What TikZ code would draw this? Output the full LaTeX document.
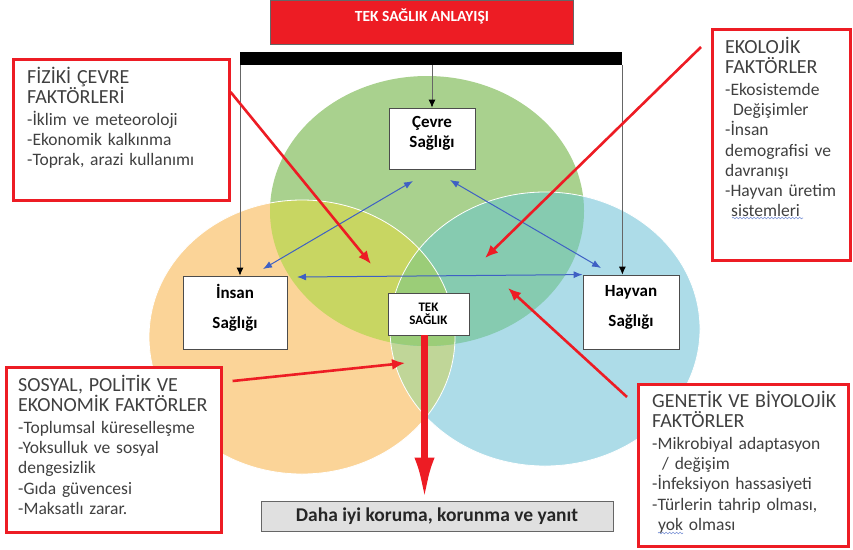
\documentclass[tikz,border=0pt]{standalone}
\usepackage{fontspec}
\setmainfont{Carlito}
\usetikzlibrary{arrows.meta,positioning,decorations.pathmorphing}
\definecolor{tekred}{RGB}{237,28,36}
\definecolor{cevregreen}{RGB}{169,209,142}
\definecolor{insanorange}{RGB}{251,212,152}
\definecolor{hayvanblue}{RGB}{173,220,232}
\definecolor{ogmix}{RGB}{200,214,98}
\definecolor{gbmix}{RGB}{134,203,176}
\definecolor{obmix}{RGB}{192,214,152}
\definecolor{ogbmix}{RGB}{155,205,120}
\definecolor{facgray}{RGB}{64,64,64}
\definecolor{linkblue}{RGB}{62,96,196}

\begin{document}
\begin{tikzpicture}[>=latex, x=1pt, y=-1pt,
  healthbox/.style={draw=black!70, fill=white, line width=0.8pt, align=center, inner sep=0,
    font=\bfseries\fontsize{17}{20}\selectfont},
  factorbox/.style={draw=tekred, line width=2.6pt, fill=white, inner sep=0},
  factortext/.style={anchor=base west, inner sep=0, text=facgray, text width=#1, align=left,
    font=\fontsize{17.5}{20.3}\selectfont},
  redlink/.style={draw=tekred, line width=2.6pt, -{Latex[length=13pt,width=11pt]}},
  bluelink/.style={draw=linkblue, line width=1pt, {Latex[length=9pt,width=7pt]}-{Latex[length=9pt,width=7pt]}},
  framelink/.style={draw=black!60, line width=0.8pt, -{Latex[length=8pt,width=7pt,black]}},
  wavy/.style={draw=linkblue!70, line width=0.6pt, decorate, decoration={snake, amplitude=0.8pt, segment length=3.5pt}}
]
\useasboundingbox (0,0) rectangle (853,549);

% the three circles
\fill[cevregreen] (427,211) ellipse [x radius=157, y radius=135];
\fill[insanorange] (302,337) ellipse [x radius=153, y radius=137];
\fill[hayvanblue] (545,329) ellipse [x radius=155, y radius=137];
\begin{scope}
  \clip (302,337) ellipse [x radius=153, y radius=137];
  \fill[ogmix] (427,211) ellipse [x radius=157, y radius=135];
  \fill[obmix] (545,329) ellipse [x radius=155, y radius=137];
\end{scope}
\begin{scope}
  \clip (545,329) ellipse [x radius=155, y radius=137];
  \fill[gbmix] (427,211) ellipse [x radius=157, y radius=135];
  \clip (302,337) ellipse [x radius=153, y radius=137];
  \fill[ogbmix] (427,211) ellipse [x radius=157, y radius=135];
\end{scope}
\draw[white, line width=0.8pt] (302,337) ellipse [x radius=153, y radius=137];
\draw[white, line width=0.8pt] (545,329) ellipse [x radius=155, y radius=137];

% title and frame
\node[fill=tekred, draw=black!60, line width=0.8pt, minimum width=303pt, minimum height=44pt, anchor=north west] (title) at (270,0) {};
\node[text=white, font=\bfseries\fontsize{15.5}{18}\selectfont] (titletext) at ([yshift=-16pt]title.north) {TEK SAĞLIK ANLAYIŞI};
\node[fill=black, minimum width=382pt, minimum height=13pt, inner sep=0, anchor=north west] (bar) at (240,52) {};

% health boxes
\node[healthbox, minimum width=86pt, minimum height=61pt] (cevre) at (432,138.5) {Çevre\\Sağlığı\\[-6pt]\mbox{}};
\node[healthbox, minimum width=104pt, minimum height=73pt, font=\bfseries\fontsize{17}{30}\selectfont] (insan) at (235,312.5) {İnsan\\Sağlığı\\[-17pt]\mbox{}};
\node[healthbox, minimum width=96pt, minimum height=74pt, font=\bfseries\fontsize{17}{30}\selectfont] (hayvan) at (631,312) {Hayvan\\Sağlığı\\[-17pt]\mbox{}};
\node[healthbox, minimum width=81pt, minimum height=42pt, font=\bfseries\fontsize{13}{13.5}\selectfont] (tek) at (428.5,314) {TEK\\SAĞLIK};
\node[draw=black!60, fill=black!12, line width=0.8pt, minimum width=352pt, minimum height=30pt, inner sep=0,
  font=\bfseries\fontsize{19.5}{22}\selectfont, text=black!85] (yanit) at (437,516) {Daha iyi koruma, korunma ve yanıt};

\draw[framelink] (bar.south west) -- (bar.south west |- insan.north);
\draw[framelink] (bar.south east) -- (bar.south east |- hayvan.north);
\draw[framelink] (cevre.north |- bar.south) -- (cevre.north);

% links between the health areas
\coordinate (cevreleft) at (413,181);
\coordinate (insanup) at (263,269);
\coordinate (cevreright) at (450,180);
\coordinate (hayvanup) at (601,268);
\coordinate (insanright) at (297,277);
\draw[bluelink] (cevreleft) -- (insanup);
\draw[bluelink] (cevreright) -- (hayvanup);
\draw[bluelink] (insanright) -- (hayvan.north west);

\draw[tekred, line width=6.5pt, -{Latex[length=43pt,width=20pt]}] ([xshift=-4pt]tek.south) -- ([xshift=-4pt]tek.south |- yanit.north);

% factor boxes
\node[factorbox, minimum width=216pt, minimum height=141pt, anchor=north west] (fizbox) at (12,58) {};
\node[factortext=200pt] (fiztext) at ([xshift=15pt,yshift=-25pt]fizbox.north west)
  {{\fontsize{20}{20}\selectfont FİZİKİ ÇEVRE\\FAKTÖRLERİ}\\[1.5pt]
   -İklim ve meteoroloji\\-Ekonomik kalkınma\\-Toprak, arazi kullanımı};

\node[factorbox, minimum width=138pt, minimum height=231pt, anchor=north west] (ekolbox) at (711,28) {};
\node[factortext=125pt] (ekoltext) at ([xshift=14pt,yshift=-25pt]ekolbox.north west)
  {{\fontsize{20}{20}\selectfont EKOLOJİK\\FAKTÖRLER}\\[1.5pt]
   -Ekosistemde\\\hspace*{8pt}Değişimler\\-İnsan\\demografisi ve\\davranışı\\-Hayvan üretim\\\hspace*{6pt}sistemleri};

\node[factorbox, minimum width=215pt, minimum height=165pt, anchor=north west] (sosbox) at (5,366) {};
\node[factortext=200pt] (sostext) at ([xshift=13pt,yshift=-25pt]sosbox.north west)
  {{\fontsize{20}{20}\selectfont SOSYAL, POLİTİK VE\\EKONOMİK FAKTÖRLER}\\[1.5pt]
   -Toplumsal küreselleşme\\-Yoksulluk ve sosyal\\dengesizlik\\-Gıda güvencesi\\-Maksatlı zarar.};

\node[factorbox, minimum width=210pt, minimum height=162pt, anchor=north west] (genbox) at (637,383) {};
\node[factortext=195pt] (gentext) at ([xshift=15pt,yshift=-24pt]genbox.north west)
  {{\fontsize{20}{20}\selectfont GENETİK VE BİYOLOJİK\\FAKTÖRLER}\\[1.5pt]
   -Mikrobiyal adaptasyon\\\hspace*{10pt}/ değişim\\-İnfeksiyon hassasiyeti\\-Türlerin tahrip olması,\\\hspace*{6pt}yok olması};

\draw[wavy] (732,218) -- (803,218);
\draw[wavy] (658,533) -- (683,533);

% factor arrows
\coordinate (fizend) at (371,264);
\coordinate (ekolend) at (485,258);
\coordinate (sosend) at (405,363);
\coordinate (genend) at (508,288);
\draw[redlink] ([yshift=-34pt]fizbox.north east) -- (fizend);
\draw[redlink] ([xshift=-10pt,yshift=-19pt]ekolbox.north west) -- (ekolend);
\draw[redlink] ([xshift=10pt,yshift=-15pt]sosbox.north east) -- (sosend);
\draw[redlink] ([xshift=-10pt,yshift=-14pt]genbox.north west) -- (genend);

\end{tikzpicture}
\end{document}
